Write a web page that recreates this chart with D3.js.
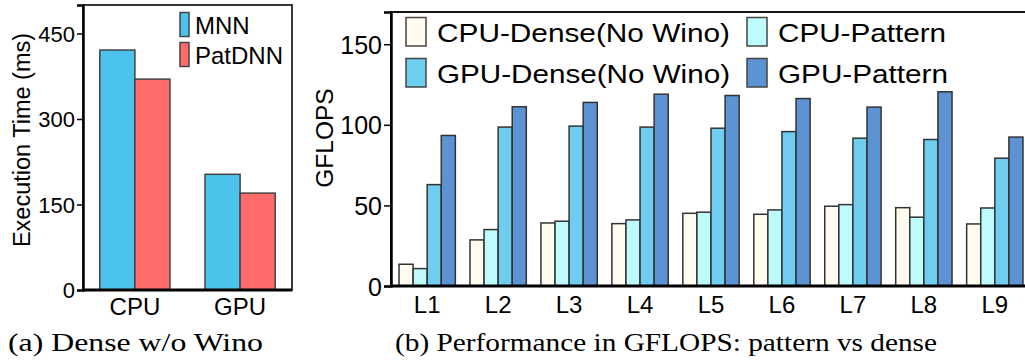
<!DOCTYPE html>
<html>
<head>
<meta charset="utf-8">
<script src="https://cdnjs.cloudflare.com/ajax/libs/d3/7.8.5/d3.min.js"></script>
<style>
  body { margin: 0; background: #fff; }
  text { font-family: "Liberation Sans", Arial, sans-serif; fill: #000; }
  .cap { font-family: "Liberation Serif", "Times New Roman", serif; }
</style>
</head>
<body>
<div id="chart"></div>
<script>
// data for (a)
var platforms = ["CPU", "GPU"];
var mnn = [421, 203];
var patdnn = [370, 170];
var yTicksA = [0, 150, 300, 450];

// data for (b)
var layers = ["L1", "L2", "L3", "L4", "L5", "L6", "L7", "L8", "L9"];
var cpuDense = [13.5, 28.6, 39.1, 38.7, 45.1, 44.5, 49.5, 48.6, 38.5];
var cpuPattern = [10.8, 35.0, 40.2, 41.0, 45.8, 47.2, 50.5, 42.7, 48.4];
var gpuDense = [62.9, 98.6, 99.2, 98.6, 97.9, 95.8, 91.7, 90.9, 79.3];
var gpuPattern = [93.4, 111.2, 113.9, 119.0, 118.2, 116.3, 111.0, 120.5, 92.4];
var yTicksB = [0, 50, 100, 150];

var svg = d3.select("#chart").append("svg")
    .attr("width", 1025)
    .attr("height", 362);

// ---------- (a) ----------
var a = {left: 83, right: 292, top: 5, bottom: 290};
var xa = d3.scaleBand().domain(platforms).range([a.left, a.right])
    .paddingInner(0.333).paddingOuter(0.16);
var xa2 = d3.scaleBand().domain(["MNN", "PatDNN"]).range([0, xa.bandwidth()]);
var ya = d3.scaleLinear().domain([0, 500]).range([a.bottom, a.top]);
var colA = {"MNN": "#4cc3ec", "PatDNN": "#ff6b6b"};

var rowsA = platforms.map(function(p, i) {
    return {name: p, vals: [{key: "MNN", v: mnn[i]}, {key: "PatDNN", v: patdnn[i]}]};
});

svg.append("g").selectAll("g")
    .data(rowsA).enter().append("g")
    .attr("transform", function(d) { return "translate(" + xa(d.name) + ",0)"; })
    .selectAll("rect").data(function(d) { return d.vals; })
    .enter().append("rect")
    .attr("x", function(d) { return xa2(d.key); })
    .attr("y", function(d) { return ya(d.v); })
    .attr("width", xa2.bandwidth())
    .attr("height", function(d) { return ya(0) - ya(d.v); })
    .attr("fill", function(d) { return colA[d.key]; })
    .attr("stroke", "#444")
    .attr("stroke-width", 1.5);

// frame
svg.append("rect")
    .attr("x", a.left).attr("y", a.top)
    .attr("width", a.right - a.left).attr("height", a.bottom - a.top)
    .attr("fill", "none").attr("stroke", "#222").attr("stroke-width", 1.8);

var axA = svg.append("g")
    .attr("transform", "translate(" + a.left + ",0)")
    .call(d3.axisLeft(ya).tickValues(yTicksA).tickSize(6).tickPadding(2));
axA.select(".domain").attr("stroke-width", 2.5);
axA.selectAll("line").attr("stroke-width", 1.5);
axA.selectAll("text").style("font-size", "22px").attr("dy", "0.36em");

svg.append("line")
    .attr("x1", a.left).attr("x2", a.right)
    .attr("y1", a.bottom).attr("y2", a.bottom)
    .attr("stroke", "#000").attr("stroke-width", 3);

svg.append("g").selectAll("text")
    .data(platforms).enter().append("text")
    .attr("x", function(d) { return xa(d) + xa.bandwidth() / 2; })
    .attr("y", 315)
    .attr("text-anchor", "middle")
    .style("font-size", "24px")
    .text(function(d) { return d; });

svg.append("text")
    .attr("transform", "translate(30,140) rotate(-90)")
    .attr("text-anchor", "middle")
    .style("font-size", "23.5px")
    .text("Execution Time (ms)");

// legend (a)
var legA = svg.append("g").selectAll("g")
    .data(["MNN", "PatDNN"]).enter().append("g")
    .attr("transform", function(d, i) { return "translate(180," + (12.5 + i * 30) + ")"; });
legA.append("rect")
    .attr("width", 9).attr("height", 24)
    .attr("fill", function(d) { return colA[d]; })
    .attr("stroke", "#444").attr("stroke-width", 1.5);
legA.append("text")
    .attr("x", 15).attr("y", 21)
    .style("font-size", "24px")
    .text(function(d) { return d; });

svg.append("text").attr("class", "cap")
    .attr("x", 8).attr("y", 351)
    .attr("textLength", 255).attr("lengthAdjust", "spacingAndGlyphs")
    .style("font-size", "26px")
    .text("(a) Dense w/o Wino");

// ---------- (b) ----------
var b = {left: 391, right: 1031, top: 12, bottom: 286};
var seriesB = ["CPU-Dense(No Wino)", "CPU-Pattern", "GPU-Dense(No Wino)", "GPU-Pattern"];
var valsB = [cpuDense, cpuPattern, gpuDense, gpuPattern];
var colB = ["#fffbee", "#bdfbfd", "#6fcdf0", "#5c93d3"];

var xb = d3.scaleBand().domain(layers).range([b.left, b.right])
    .paddingInner(0.206).paddingOuter(0.113);
var xb2 = d3.scaleBand().domain(d3.range(4)).range([0, xb.bandwidth()]);
var yb = d3.scaleLinear().domain([0, 170]).range([b.bottom, b.top]);

var rowsB = layers.map(function(l, i) {
    return {name: l, vals: valsB.map(function(s, j) { return {k: j, v: s[i]}; })};
});

svg.append("g").selectAll("g")
    .data(rowsB).enter().append("g")
    .attr("transform", function(d) { return "translate(" + xb(d.name) + ",0)"; })
    .selectAll("rect").data(function(d) { return d.vals; })
    .enter().append("rect")
    .attr("x", function(d) { return xb2(d.k); })
    .attr("y", function(d) { return yb(d.v); })
    .attr("width", xb2.bandwidth())
    .attr("height", function(d) { return yb(0) - yb(d.v); })
    .attr("fill", function(d) { return colB[d.k]; })
    .attr("stroke", "#333")
    .attr("stroke-width", 1.5);

svg.append("rect")
    .attr("x", b.left).attr("y", b.top)
    .attr("width", b.right - b.left).attr("height", b.bottom - b.top)
    .attr("fill", "none").attr("stroke", "#111").attr("stroke-width", 2);

var axB = svg.append("g")
    .attr("transform", "translate(" + b.left + ",0)")
    .call(d3.axisLeft(yb).tickValues(yTicksB).tickSize(7).tickPadding(2));
axB.select(".domain").attr("stroke-width", 2.5);
axB.selectAll("line").attr("stroke-width", 1.5);
axB.selectAll("text").style("font-size", "25px").attr("dy", "0.36em");

svg.append("line")
    .attr("x1", b.left).attr("x2", b.right)
    .attr("y1", b.bottom).attr("y2", b.bottom)
    .attr("stroke", "#000").attr("stroke-width", 3);

svg.append("g").selectAll("text")
    .data(layers).enter().append("text")
    .attr("x", function(d) { return xb(d) + xb.bandwidth() / 2; })
    .attr("y", 313)
    .attr("text-anchor", "middle")
    .style("font-size", "24px")
    .text(function(d) { return d; });

svg.append("text")
    .attr("transform", "translate(333,138) rotate(-90)")
    .attr("text-anchor", "middle")
    .style("font-size", "24.5px")
    .text("GFLOPS");

// legend (b): two columns
var legPos = [[406, 17.5], [747, 17.5], [406, 58.5], [747, 58.5]];
var legOrder = [0, 1, 2, 3];
var legWidths = [293, 168, 293, 170];
var legB = svg.append("g").selectAll("g")
    .data(legOrder).enter().append("g")
    .attr("transform", function(d) { return "translate(" + legPos[d][0] + "," + legPos[d][1] + ")"; });
legB.append("rect")
    .attr("width", 20).attr("height", 28.5)
    .attr("fill", function(d) { return colB[d]; })
    .attr("stroke", "#444").attr("stroke-width", 1.5);
legB.append("text")
    .attr("x", 31).attr("y", 24)
    .attr("textLength", function(d) { return legWidths[d]; })
    .attr("lengthAdjust", "spacingAndGlyphs")
    .style("font-size", "26px")
    .text(function(d) { return seriesB[d]; });

svg.append("text").attr("class", "cap")
    .attr("x", 395).attr("y", 351)
    .attr("textLength", 542).attr("lengthAdjust", "spacingAndGlyphs")
    .style("font-size", "26px")
    .text("(b) Performance in GFLOPS: pattern vs dense");
</script>
</body>
</html>
